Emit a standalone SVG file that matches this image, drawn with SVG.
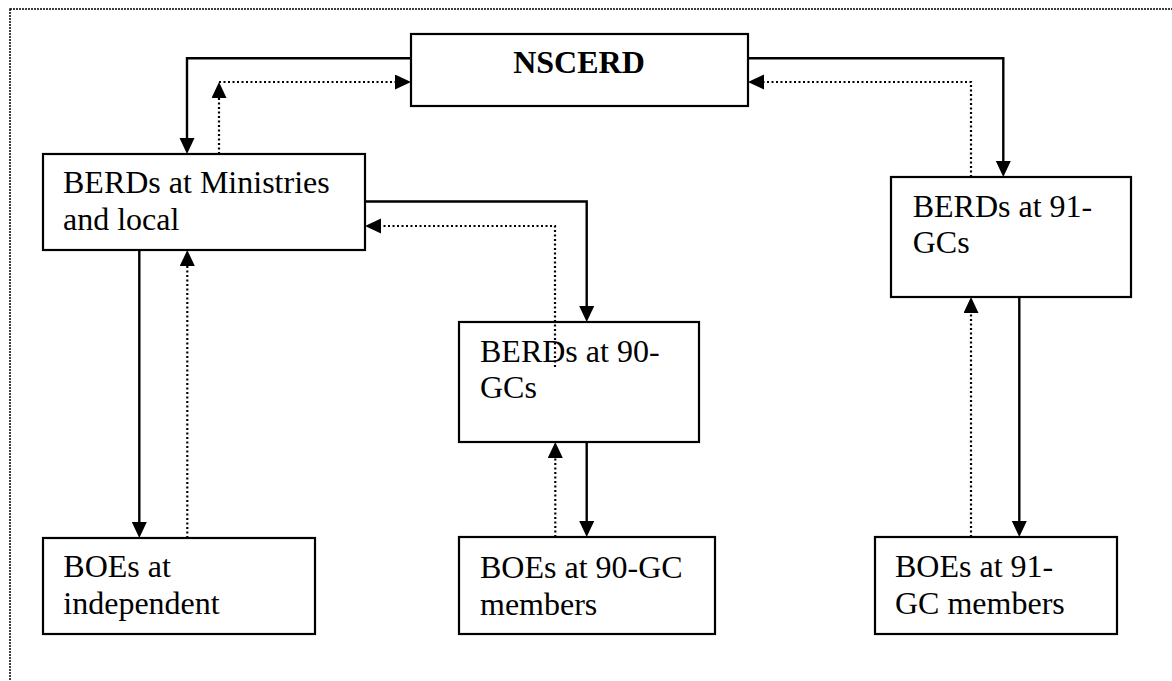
<svg xmlns="http://www.w3.org/2000/svg" width="1172" height="681" viewBox="0 0 1172 681">
<style>
.box{fill:#fff;stroke:#000;stroke-width:2.2}
.t{font-family:"Liberation Serif","Times New Roman",serif;font-size:32px;fill:#000}
.b{font-weight:bold}
.sol{fill:none;stroke:#000;stroke-width:2.4}
.dot{fill:none;stroke:#000;stroke-width:2.2;stroke-dasharray:2 2.5}
.frame{fill:none;stroke:#000;stroke-width:1.5;stroke-dasharray:2 1}
</style>
<defs>
<marker id="ah" markerUnits="userSpaceOnUse" markerWidth="17" markerHeight="16" refX="5" refY="7.5" orient="auto" viewBox="0 0 17 16">
<path d="M0,0 L16,7.5 L0,15 z" fill="#000"/>
</marker>
</defs>
<rect width="1172" height="681" fill="#fff"/>
<rect class="frame" x="10" y="9" width="1200" height="700"/>
<g id="connectors">
<path class="sol" d="M411,58.3 H187 V143" marker-end="url(#ah)"/>
<path class="dot" d="M219,154 V93" marker-end="url(#ah)"/>
<path class="dot" d="M219,82 H400" marker-end="url(#ah)"/>
<path class="sol" d="M748,58.3 H1003.3 V166" marker-end="url(#ah)"/>
<path class="dot" d="M971,177 V82 H759" marker-end="url(#ah)"/>
<path class="sol" d="M365,201.5 H586.7 V311" marker-end="url(#ah)"/>
<path class="dot" d="M555,367 V226 H376" marker-end="url(#ah)"/>
<path class="sol" d="M139.3,250 V527" marker-end="url(#ah)"/>
<path class="dot" d="M187.3,538 V261" marker-end="url(#ah)"/>
<path class="sol" d="M586.7,442 V526" marker-end="url(#ah)"/>
<path class="dot" d="M555.3,537 V453" marker-end="url(#ah)"/>
<path class="sol" d="M1019.3,297 V526" marker-end="url(#ah)"/>
<path class="dot" d="M971,537 V308" marker-end="url(#ah)"/>
</g>
<g id="nscerd">
<rect class="box" x="411" y="34" width="337" height="72"/>
<text class="t b" x="579" y="73" text-anchor="middle">NSCERD</text>
</g>
<g id="berds-ministries">
<rect class="box" x="43" y="154" width="322" height="96"/>
<text class="t" x="63" y="193.3">BERDs at Ministries</text>
<text class="t" x="63" y="230">and local</text>
</g>
<g id="berds-90">
<rect class="box" x="459" y="322" width="240" height="120" style="fill:none"/>
<text class="t" x="480" y="361.7">BERDs at 90-</text>
<text class="t" x="480" y="398.3">GCs</text>
</g>
<g id="berds-91">
<rect class="box" x="891" y="177" width="240" height="120"/>
<text class="t" x="912.7" y="216.7">BERDs at 91-</text>
<text class="t" x="912.7" y="253.3">GCs</text>
</g>
<g id="boes-independent">
<rect class="box" x="43" y="538" width="272" height="96"/>
<text class="t" x="63.3" y="577">BOEs at</text>
<text class="t" x="63.3" y="614">independent</text>
</g>
<g id="boes-90">
<rect class="box" x="459" y="537" width="256" height="97"/>
<text class="t" x="480" y="578.3">BOEs at 90-GC</text>
<text class="t" x="480" y="615">members</text>
</g>
<g id="boes-91">
<rect class="box" x="875" y="537" width="242" height="97"/>
<text class="t" x="895" y="576.7">BOEs at 91-</text>
<text class="t" x="895" y="614">GC members</text>
</g>
</svg>
